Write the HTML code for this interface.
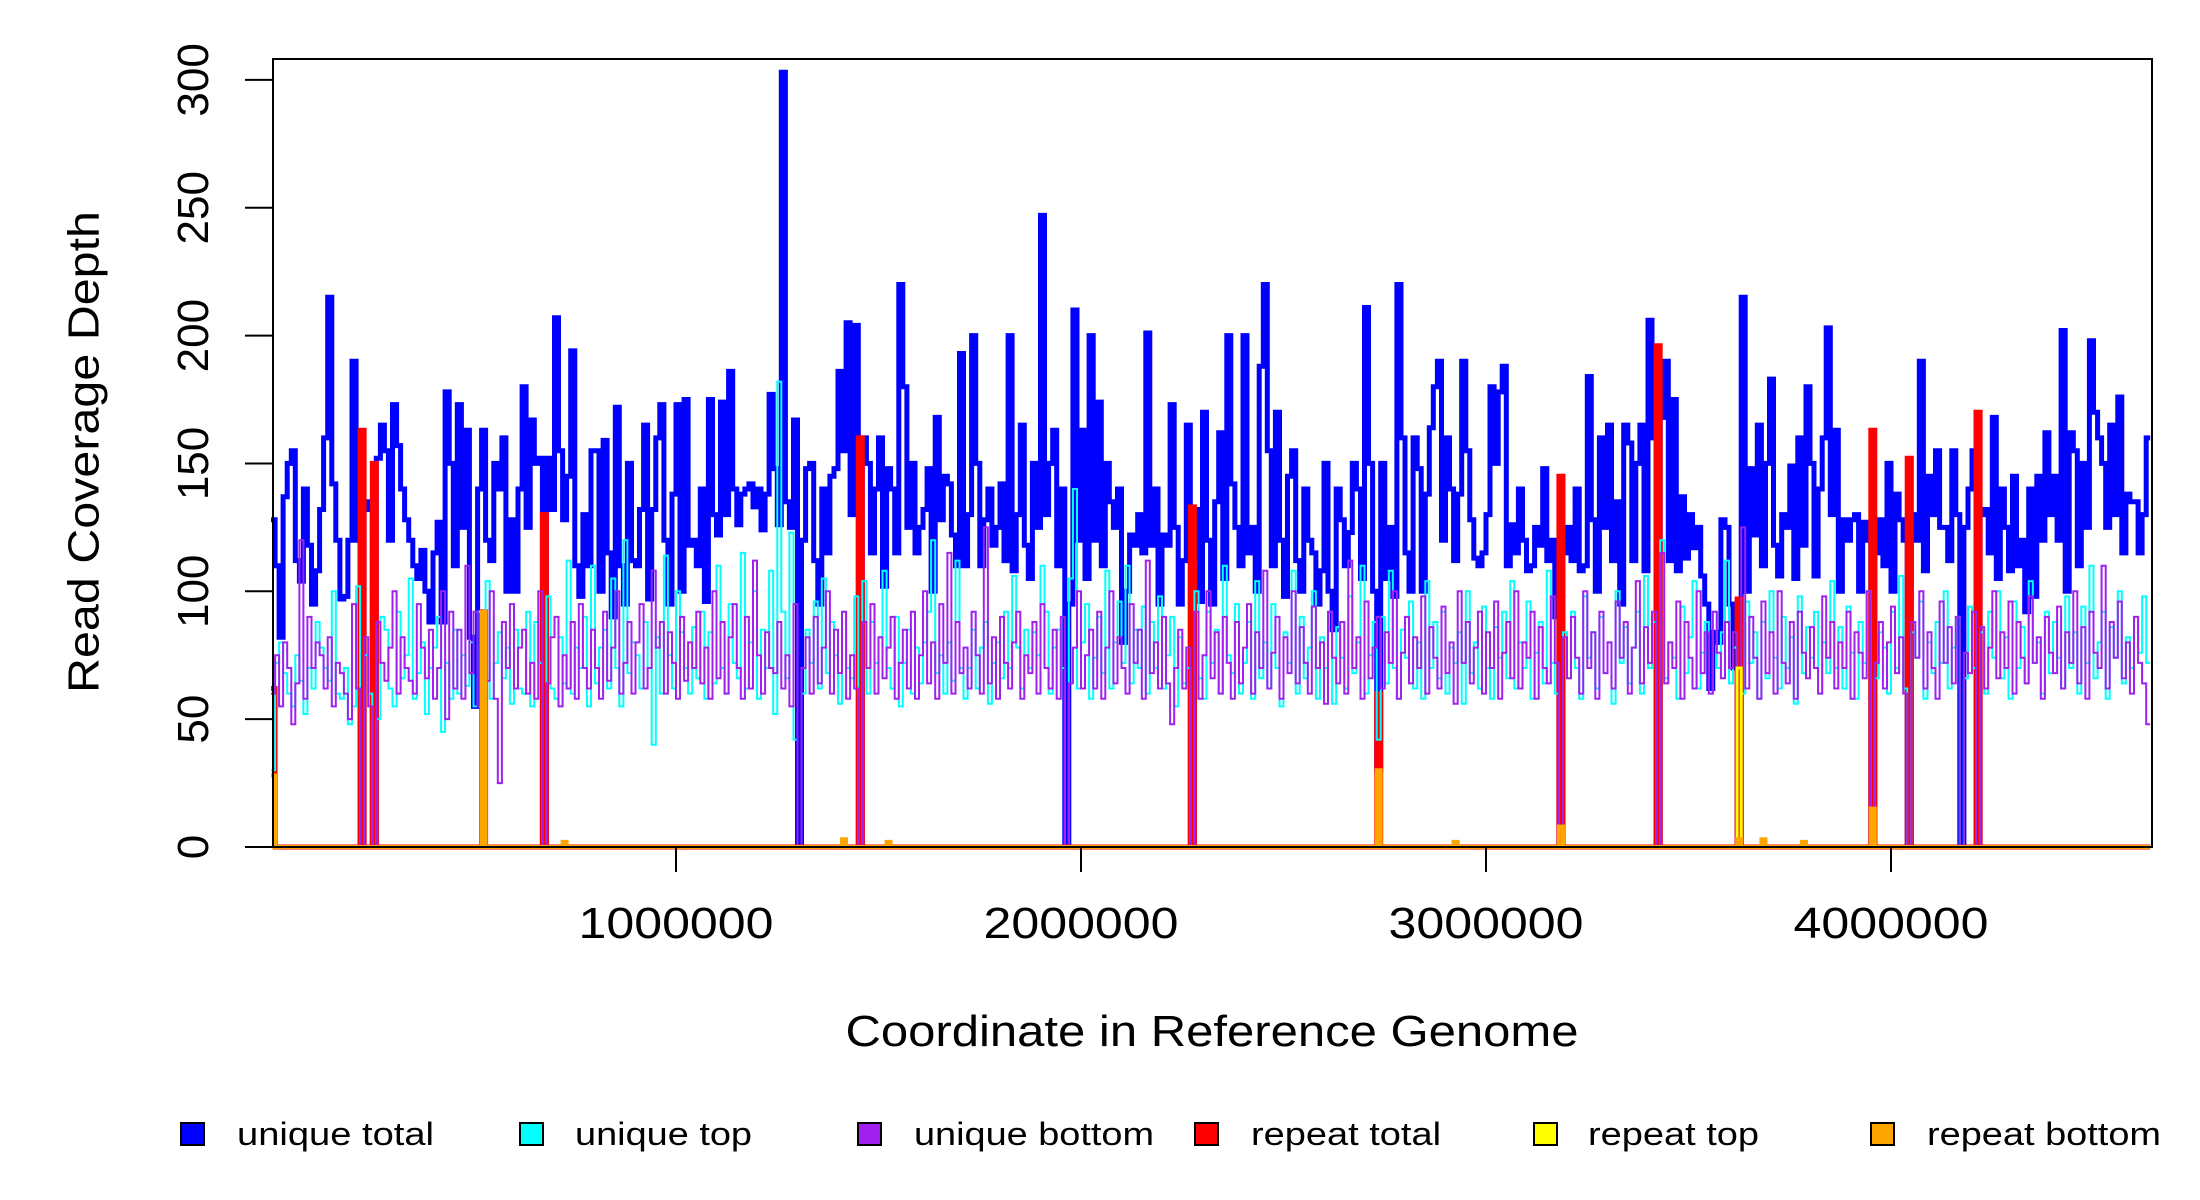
<!DOCTYPE html>
<html><head><meta charset="utf-8"><style>
html,body{margin:0;padding:0;background:#fff;}
svg{display:block;font-family:"Liberation Sans","DejaVu Sans",sans-serif;}
</style></head><body>
<svg id="chart" width="2200" height="1200" viewBox="0 0 2200 1200" xmlns="http://www.w3.org/2000/svg">
<rect width="2200" height="1200" fill="#fff"/>
<g id="series"></g>
<rect x="273" y="59" width="1879" height="788" fill="none" stroke="#000" stroke-width="2"/>
<g id="axes"></g>
<text x="87" y="452" transform="rotate(-90 87 452)" text-anchor="middle" dominant-baseline="middle" font-size="44" textLength="482" lengthAdjust="spacingAndGlyphs">Read Coverage Depth</text>
<text x="1212" y="1046" text-anchor="middle" font-size="44" textLength="733" lengthAdjust="spacingAndGlyphs">Coordinate in Reference Genome</text>
<g id="legend"></g>
</svg>
<script>
const binSize = 10000;
const uniqueTotal = [
128,110,82,137,150,155,112,104,140,118,95,108,132,160,215,142,120,97,98,120,
190,120,0,135,132,0,152,165,155,120,173,157,140,128,120,110,105,116,100,88,
115,127,88,178,150,110,173,125,163,82,55,140,163,120,112,150,140,160,100,128,
100,140,180,125,167,150,152,0,152,132,207,155,128,145,194,110,98,130,110,155,
155,100,159,115,90,172,110,95,150,112,110,132,165,97,132,160,173,120,95,138,
173,100,175,118,120,110,140,96,175,130,122,174,130,186,140,126,138,140,142,133,
140,124,138,177,148,126,303,135,125,167,0,120,148,150,112,95,140,115,145,148,
186,155,205,130,204,0,160,150,115,140,160,102,148,140,115,220,180,125,150,115,
125,132,148,100,168,128,145,142,122,110,193,110,130,200,150,110,128,140,118,125,
142,112,200,108,130,165,118,105,150,125,247,130,150,163,110,140,0,95,210,120,
163,105,200,120,174,110,150,135,125,140,80,100,122,118,130,115,201,118,140,95,
122,118,173,125,95,112,165,0,132,96,170,120,95,135,162,105,200,142,125,110,
200,115,125,100,188,220,155,110,170,120,98,145,155,112,100,140,120,115,95,108,
150,100,85,140,128,110,123,150,140,105,211,150,100,30,150,105,125,98,220,160,
115,100,160,148,100,138,164,180,190,120,160,140,112,138,190,155,128,113,110,115,
130,180,150,178,188,110,126,115,140,120,108,110,125,118,148,112,120,90,0,115,
125,112,140,108,110,184,128,100,160,125,165,112,135,95,165,158,112,150,165,108,
206,160,0,168,190,112,175,108,137,113,130,117,125,106,95,62,84,80,128,125,
95,70,0,215,100,148,122,165,110,150,183,118,106,130,125,149,105,160,118,180,
150,106,140,160,203,130,163,100,128,120,128,130,100,127,120,0,115,128,110,150,
100,138,128,120,0,130,120,190,108,145,130,155,125,125,112,155,130,0,125,140,
155,0,130,132,115,168,105,140,125,108,145,110,120,92,140,98,145,120,162,130,
145,120,202,100,162,155,110,150,125,198,170,160,150,125,165,130,176,115,138,135,
135,115,130,160];
const uniqueTop = [
30,72,80,68,60,55,75,65,52,70,62,88,78,70,65,100,60,58,70,48,
55,102,0,75,60,0,50,90,85,62,55,92,66,75,105,58,68,80,52,70,
78,90,45,72,58,85,60,75,63,80,55,92,68,104,58,72,84,66,78,56,
85,62,60,92,55,88,72,0,98,62,58,82,64,112,60,78,70,90,55,110,
64,78,85,62,105,70,55,120,68,80,75,62,88,70,40,82,60,114,75,62,
100,84,70,60,86,66,92,58,84,64,110,70,60,95,72,66,115,62,80,100,
58,85,70,108,52,182,92,66,123,42,0,60,85,72,96,62,105,68,88,75,
56,92,70,66,98,0,104,60,88,72,82,108,70,62,90,55,72,85,60,78,
64,80,92,120,68,75,60,80,65,112,70,58,70,85,62,78,88,56,72,80,
66,92,70,106,78,62,85,70,84,75,110,92,60,78,85,70,0,105,140,62,
80,95,58,74,90,68,108,62,80,96,72,110,64,85,70,94,60,88,70,98,
62,75,90,55,82,64,70,0,100,66,58,92,72,85,60,110,75,68,95,60,
72,88,58,104,66,80,62,95,70,55,84,72,108,60,90,66,78,100,58,82,
70,92,56,86,74,62,98,68,80,110,60,75,88,42,90,64,108,70,58,85,
74,96,62,80,58,104,70,88,66,92,60,78,72,84,56,100,68,80,62,94,
70,58,86,74,92,66,104,62,80,70,96,58,76,88,64,108,72,60,0,84,
66,92,70,58,98,74,84,62,90,68,80,56,100,72,86,64,78,92,60,106,
70,88,0,120,66,80,74,58,94,68,82,104,62,76,88,60,92,70,84,112,
64,78,0,60,96,72,84,58,88,66,100,74,62,90,70,82,56,98,68,86,
74,92,60,80,68,104,70,86,62,94,76,58,88,72,100,0,66,84,78,60,
92,70,106,62,0,84,74,96,58,80,68,88,72,100,62,78,90,0,66,94,
70,0,84,60,92,74,100,66,82,58,96,70,86,64,104,72,80,60,92,68,
88,74,62,98,70,84,60,94,72,110,66,80,92,58,86,74,100,64,82,70,
90,76,98,72];
const uniqueBottom = [
60,75,55,80,70,48,64,120,58,90,70,80,75,62,82,55,72,68,60,50,
95,62,0,82,55,0,88,72,65,78,100,60,82,70,65,60,95,78,66,85,
58,70,100,50,92,62,85,58,110,68,92,55,78,65,100,58,25,88,70,95,
62,78,85,60,72,58,100,0,64,82,90,55,75,62,88,58,95,70,62,85,
70,58,92,65,78,100,60,72,88,60,80,95,62,70,108,78,88,60,84,72,
58,90,65,80,70,92,64,78,58,100,66,88,60,82,95,70,58,90,62,112,
75,60,84,70,68,88,62,75,55,95,0,70,82,60,90,64,78,100,60,85,
68,92,58,75,62,0,88,70,95,60,82,66,78,90,58,72,85,62,92,58,
75,100,64,80,58,95,72,115,60,88,68,78,62,92,75,60,125,64,82,58,
90,72,62,80,92,58,75,68,88,60,95,70,62,85,58,90,0,64,78,100,
62,75,85,62,92,58,78,100,64,82,70,60,95,72,85,58,112,68,80,62,
90,64,48,70,85,62,78,0,92,58,75,100,66,84,60,90,72,58,88,64,
78,95,60,84,70,108,62,76,90,58,82,68,100,64,86,72,60,94,70,80,
56,92,74,64,88,60,112,70,82,58,96,66,78,90,62,84,72,100,58,76,
90,64,82,70,98,60,86,74,62,94,68,80,56,100,72,88,64,78,92,60,
84,70,96,58,76,88,66,100,62,80,74,92,58,86,70,64,98,72,0,82,
66,90,74,60,100,70,84,58,92,68,80,62,96,74,88,60,78,104,64,86,
72,92,0,115,64,80,70,96,58,88,74,62,100,68,84,60,92,76,66,88,
70,84,0,125,62,90,74,58,96,68,84,60,100,72,64,88,58,92,76,66,
86,70,60,98,74,88,62,80,70,92,58,84,76,66,100,0,72,88,62,80,
94,68,82,60,0,88,74,100,62,84,70,58,96,72,86,64,90,0,76,68,
92,0,86,62,78,100,66,84,70,96,60,88,74,64,98,72,82,58,90,76,
68,94,62,84,72,100,64,86,58,92,76,70,110,62,88,74,96,66,80,60,
90,72,64,48];
const repeatTotalBins = [0,22,25,52,67,145,227,273,318,342,362,395,404,421];
const repeatTotalVals = [62,163,150,92,130,160,133,60,145,196,97,163,152,170];
const repeatTopBins = [362];
const repeatTopVals = [70];
const repeatBottomBins = [0,52,72,141,152,273,292,318,362,368,378,395];
const repeatBottomVals = [28,92,2,3,2,30,2,8,3,3,2,15];
const yTicks = [0,50,100,150,200,250,300];
const yTickLabels = ["0","50","100","150","200","250","300"];
const xTicks = [1000000,2000000,3000000,4000000];
const xTickLabels = ["1000000","2000000","3000000","4000000"];
const legendLabels = ["unique total","unique top","unique bottom","repeat total","repeat top","repeat bottom"];
const legendColors = ["#0000ff","#00ffff","#a020f0","#ff0000","#ffff00","#ffa500"];

const NS = "http://www.w3.org/2000/svg";
const N = uniqueTotal.length;
function xs(bp){ return 271 + bp * 405 / 1e6; }
function ys(v){ return 847 - v * 2.557; }
function expand(bins, vals){ const a = new Array(N).fill(0); bins.forEach((b,i)=>{a[b]=vals[i];}); return a; }
function stepPath(arr){
  let d = "M" + xs(0).toFixed(1) + "," + ys(arr[0]).toFixed(1);
  for (let i = 0; i < arr.length; i++){
    if (i > 0) d += "V" + ys(arr[i]).toFixed(1);
    d += "H" + xs((i + 1) * binSize).toFixed(1);
  }
  return d;
}
const seriesG = document.getElementById("series");
function addSeries(arr, color, w, name){
  const p = document.createElementNS(NS, "path");
  p.setAttribute("d", stepPath(arr));
  p.setAttribute("fill", "none");
  p.setAttribute("stroke", color);
  p.setAttribute("stroke-width", w);
  p.setAttribute("stroke-linejoin", "miter");
  
  
  seriesG.appendChild(p);
}
addSeries(uniqueTotal, "#0000ff", 5, "unique-total-line");
addSeries(expand(repeatTotalBins, repeatTotalVals), "#ff0000", 5, "repeat-total-line");
addSeries(uniqueTop, "#00ffff", 2, "unique-top-line");
addSeries(uniqueBottom, "#a020f0", 2, "unique-bottom-line");
addSeries(expand(repeatTopBins, repeatTopVals), "#ffff00", 3, "repeat-top-line");
addSeries(expand(repeatBottomBins, repeatBottomVals), "#ffa500", 4, "repeat-bottom-line");

const axesG = document.getElementById("axes");
yTicks.forEach((v, i) => {
  const t = document.createElementNS(NS, "line");
  t.setAttribute("x1", 245); t.setAttribute("x2", 273);
  t.setAttribute("y1", ys(v)); t.setAttribute("y2", ys(v));
  t.setAttribute("stroke", "#000"); t.setAttribute("stroke-width", 2);
  
  
  axesG.appendChild(t);
  const tx = document.createElementNS(NS, "text");
  const y = ys(v);
  tx.setAttribute("x", 208); tx.setAttribute("y", y);
  tx.setAttribute("transform", "rotate(-90 208 " + y + ")");
  tx.setAttribute("text-anchor", "middle");
  tx.setAttribute("font-size", "44");
  tx.textContent = yTickLabels[i];
  
  
  axesG.appendChild(tx);
});
xTicks.forEach((v, i) => {
  const t = document.createElementNS(NS, "line");
  t.setAttribute("x1", xs(v)); t.setAttribute("x2", xs(v));
  t.setAttribute("y1", 847); t.setAttribute("y2", 872);
  t.setAttribute("stroke", "#000"); t.setAttribute("stroke-width", 2);
  
  
  axesG.appendChild(t);
  const tx = document.createElementNS(NS, "text");
  tx.setAttribute("x", xs(v)); tx.setAttribute("y", 938);
  tx.setAttribute("text-anchor", "middle");
  tx.setAttribute("font-size", "44");
  tx.setAttribute("textLength", "195");
  tx.setAttribute("lengthAdjust", "spacingAndGlyphs");
  tx.textContent = xTickLabels[i];
  
  
  axesG.appendChild(tx);
});

const legendG = document.getElementById("legend");
const legSqX = [181,520,858,1195,1534,1871];
const legTxtX = [237,575,914,1251,1588,1927];
const legTxtW = [197,177,240,190,171,234];
legendLabels.forEach((lab, i) => {
  const r = document.createElementNS(NS, "rect");
  r.setAttribute("x", legSqX[i]); r.setAttribute("y", 1123);
  r.setAttribute("width", 23); r.setAttribute("height", 22);
  r.setAttribute("fill", legendColors[i]); r.setAttribute("stroke", "#000"); r.setAttribute("stroke-width", 2);
  
  
  legendG.appendChild(r);
  const t = document.createElementNS(NS, "text");
  t.setAttribute("x", legTxtX[i]); t.setAttribute("y", 1145);
  t.setAttribute("font-size", "32");
  t.setAttribute("textLength", legTxtW[i]);
  t.setAttribute("lengthAdjust", "spacingAndGlyphs");
  t.textContent = lab;
  
  
  legendG.appendChild(t);
});
</script>
</body></html>
